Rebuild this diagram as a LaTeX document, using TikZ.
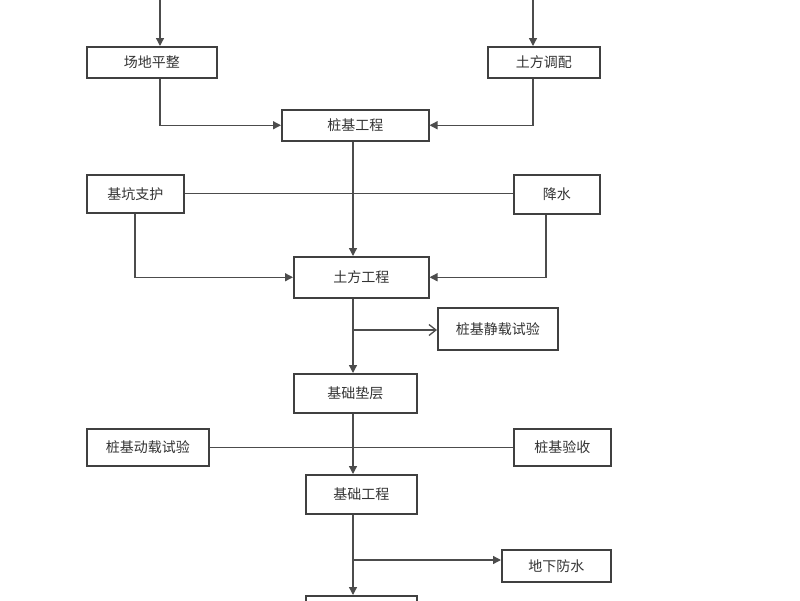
\documentclass[tikz,border=0pt]{standalone}
\usepackage{fontspec}
\newfontfamily\cjk{Noto Sans CJK SC}
\usetikzlibrary{arrows.meta}
\begin{document}
\begin{tikzpicture}[x=1pt,y=-1pt,
  box/.style={draw=black!75,line width=1.5pt,fill=white,inner sep=0pt},
  ln/.style={draw=black!70,line width=1.3pt},
  arr/.style={ln,-{Triangle[length=8pt,width=8pt]}},
  oarr/.style={ln,-{Straight Barb[length=7pt,width=11pt]}},
  lab/.style={font=\cjk\fontsize{14}{14}\selectfont,text=black!80}]
\useasboundingbox (0,0) rectangle (800,600);
\clip (0,0) rectangle (800,600);
\newcommand\bx[6]{\node[box,minimum width=#4-#2,minimum height=#5-#3,anchor=north west] (#1) at (#2,#3) {}; \node[lab] at (#1.center) {#6};}
\bx{a}{86}{46}{216}{77}{场地平整}
\bx{b}{487}{46}{599}{77}{土方调配}
\bx{c}{281}{109}{428}{140}{桩基工程}
\bx{d}{86}{174}{183}{212}{基坑支护}
\bx{e}{513}{174}{599}{213}{降水}
\bx{f}{293}{256}{428}{297}{土方工程}
\bx{g}{437}{307}{557}{349}{桩基静载试验}
\bx{h}{293}{373}{416}{412}{基础垫层}
\bx{i}{86}{428}{208}{465}{桩基动载试验}
\bx{j}{513}{428}{610}{465}{桩基验收}
\bx{k}{305}{474}{416}{513}{基础工程}
\bx{l}{501}{549}{610}{581}{地下防水}
\node[box,minimum width=111,minimum height=30,anchor=north west] (m) at (305,595) {};
\coordinate (ta) at (160,0); \coordinate (tb) at (533,0);
\draw[arr] (ta) -- (a.north -| ta);
\draw[arr] (tb) -- (b.north -| tb);
\draw[arr] (a.south -| ta) |- (c.west);
\draw[arr] (b.south -| tb) |- (c.east);
\draw[ln] (d.east) -- (e.west |- d.east);
\draw[arr] (c.south -| 353,0) -- (f.north -| 353,0);
\draw[arr] (d.south -| 135,0) |- (f.west);
\draw[arr] (e.south -| 546,0) |- (f.east);
\draw[arr] (f.south -| 353,0) -- (h.north -| 353,0);
\coordinate (p1) at (353,330);
\draw[oarr] (p1) -- (g.west |- p1);
\draw[ln] (i.east) -- (j.west |- i.east);
\draw[arr] (h.south -| 353,0) -- (k.north -| 353,0);
\draw[arr] (k.south -| 353,0) -- (m.north -| 353,0);
\coordinate (p2) at (353,560);
\draw[arr] (p2) -- (l.west |- p2);
\end{tikzpicture}
\end{document}
